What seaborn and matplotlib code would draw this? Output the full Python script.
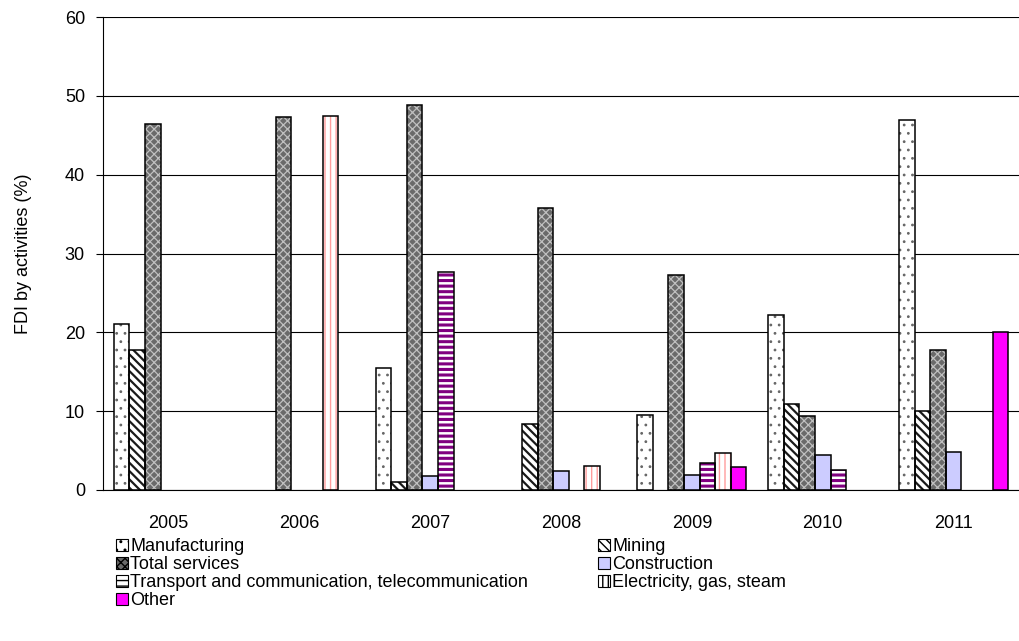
import numpy as np
import pandas as pd
import matplotlib
matplotlib.use("Agg")
import matplotlib.pyplot as plt
from matplotlib.patches import Rectangle, Patch
import seaborn as sns

years = ["2005", "2006", "2007", "2008", "2009", "2010", "2011"]
activities = [
    "Manufacturing",
    "Mining",
    "Total services",
    "Construction",
    "Transport and communication, telecommunication",
    "Electricity, gas, steam",
    "Other",
]
nan = np.nan
manufacturing = [21.1, nan, 15.5, nan, 9.5, 22.2, 46.9]
mining = [17.8, nan, 1.0, 8.4, nan, 10.9, 10.0]
total_services = [46.4, 47.3, 48.8, 35.8, 27.3, 9.4, 17.7]
construction = [nan, nan, 1.8, 2.4, 1.9, 4.5, 4.8]
transport = [nan, nan, 27.6, nan, 3.4, 2.6, nan]
electricity = [nan, 47.5, nan, 3.1, 4.7, nan, nan]
other = [nan, nan, nan, nan, 2.9, nan, 20.0]

series = [manufacturing, mining, total_services, construction,
          transport, electricity, other]

# (face colour, hatch, hatch colour, hatch line width)
styles = [
    ("white", "..", "#666666", 0.8),
    ("white", "\\\\\\\\", "#1a1a1a", 1.6),
    ("#6a6a6a", "xxxx", "#c0c0c0", 0.9),
    ("#ccccff", "", "#ccccff", 0.0),
    ("white", "---", "#800080", 2.2),
    ("white", "|||", "#ff9c9c", 1.0),
    ("#ff00ff", "", "#ff00ff", 0.0),
]

rows = []
for name, vals in zip(activities, series):
    for y, v in zip(years, vals):
        rows.append({"Year": y, "Activity": name, "Share": v})
df = pd.DataFrame(rows)

sns.set_style("white")
plt.rcParams["font.family"] = ["Liberation Sans", "DejaVu Sans"]
plt.rcParams["text.color"] = "black"
plt.rcParams["axes.labelcolor"] = "black"
plt.rcParams["xtick.color"] = "black"
plt.rcParams["ytick.color"] = "black"
plt.rcParams["hatch.linewidth"] = 1.0

fig = plt.figure(figsize=(10.19, 6.41), dpi=100)
ax = fig.add_axes([103 / 1019, 1 - 490 / 641, 916 / 1019, 473 / 641])

sns.barplot(data=df, x="Year", y="Share", hue="Activity", order=years,
            hue_order=activities, width=7 / 8.4, errorbar=None,
            legend=False, ax=ax, zorder=2)

for container, (fc, hatch, hc, hlw) in zip(ax.containers, styles):
    for bar in container:
        h = bar.get_height()
        if not np.isfinite(h) or h == 0:
            bar.set_visible(False)
            continue
        bar.set_facecolor(fc)
        bar.set_hatch(hatch)
        bar.set_edgecolor(hc)
        bar.set_linewidth(0)
        if hasattr(bar, "set_hatch_linewidth") and hlw > 0:
            bar.set_hatch_linewidth(hlw)
        ax.add_patch(Rectangle(bar.get_xy(), bar.get_width(), h,
                               fill=False, edgecolor="black",
                               linewidth=1.1, zorder=3))

ax.set_xlim(-0.5, len(years) - 0.5)
ax.set_ylim(0, 60)
ax.set_yticks(np.arange(0, 61, 10))
ax.yaxis.grid(True, color="black", linewidth=0.8)
ax.set_axisbelow(True)

for side in ("top", "right"):
    ax.spines[side].set_visible(False)
for side in ("left", "bottom"):
    ax.spines[side].set_color("black")
    ax.spines[side].set_linewidth(0.8)

ax.set_xticks(np.arange(-0.5, len(years), 1.0), minor=True)
ax.tick_params(axis="x", which="major", length=0, pad=18, labelsize=13,
               labelcolor="black")
ax.tick_params(axis="x", which="minor", length=5, width=0.8,
               color="black", direction="out")
ax.tick_params(axis="y", length=5, width=0.8, color="black",
               direction="out", pad=8, labelsize=13, left=True,
               labelcolor="black")

ax.set_xlabel("")
ax.set_ylabel("FDI by activities (%)", fontsize=13, color="black")
ax.yaxis.set_label_coords(-0.077, 0.5)

handles = []
for (fc, hatch, hc, hlw) in styles:
    p = Patch(facecolor=fc, hatch=hatch, edgecolor="black", linewidth=0.8)
    handles.append(p)

# legend fills column-wise: reorder so rows read left-to-right
order = [0, 2, 4, 6, 1, 3, 5]
leg = fig.legend([handles[i] for i in order],
                 [activities[i] for i in order],
                 ncol=2, loc="upper left",
                 bbox_to_anchor=(116 / 1019, 1 - 538 / 641),
                 frameon=False, fontsize=13, borderaxespad=0, borderpad=0,
                 handlelength=0.65, handleheight=0.65, handletextpad=0.15,
                 labelspacing=0.06, columnspacing=3.85)
for t in leg.get_texts():
    t.set_color("black")

fig.savefig("out.png", dpi=100)
